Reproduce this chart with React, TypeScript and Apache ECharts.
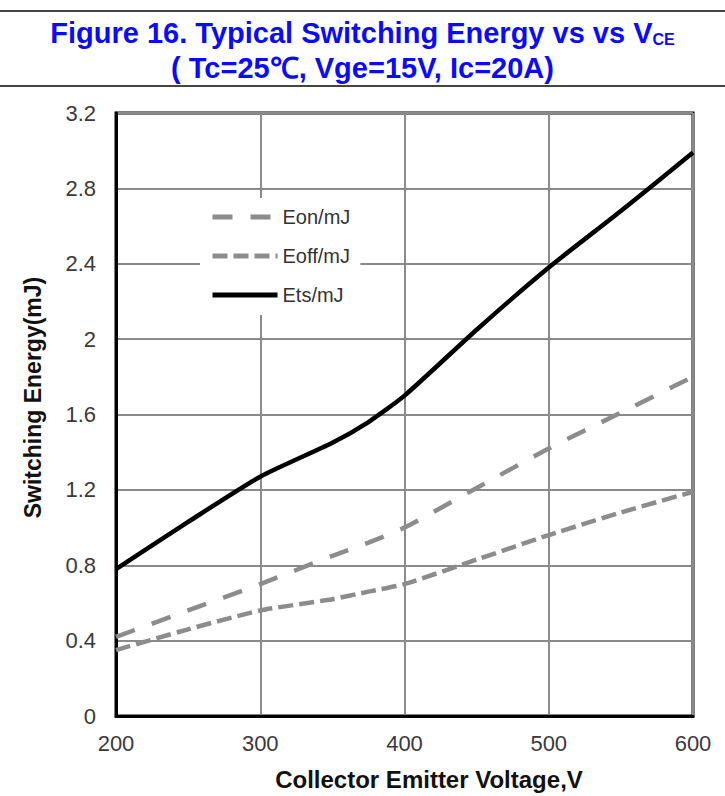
import React, { useEffect, useRef } from "react";
import * as echarts from "echarts";

const voltage = [200, 250, 300, 350, 375, 400, 450, 500, 550, 600];
const eon = [0.42, 0.56, 0.7, 0.85, 0.92, 1.0, 1.21, 1.42, 1.61, 1.8];
const eoff = [0.35, 0.46, 0.56, 0.62, 0.66, 0.7, 0.83, 0.96, 1.08, 1.19];
const ets = [0.78, 1.03, 1.27, 1.45, 1.56, 1.7, 2.05, 2.38, 2.68, 2.99];
const seriesNames = ["Eon/mJ", "Eoff/mJ", "Ets/mJ"];

const FONT = "'Liberation Sans', Arial, Helvetica, sans-serif";
const BLUE = "#0a0aff";

const pairs = (ys: number[]) => voltage.map((v, i) => [v, ys[i]]);

export default function App() {
  const ref = useRef<HTMLDivElement>(null);
  useEffect(() => {
    if (!ref.current) return;
    const chart = echarts.init(ref.current, null, { renderer: "svg" });
    chart.setOption({
      animation: false,
      backgroundColor: "#fff",
      title: {
        text: "Figure 16. Typical Switching Energy vs vs V{sub|CE}",
        subtext: "( Tc=25℃, Vge=15V, Ic=20A)",
        left: "center",
        top: 18,
        padding: 0,
        itemGap: 6,
        textStyle: {
          fontFamily: FONT,
          fontSize: 29,
          fontWeight: "bold",
          color: BLUE,
          rich: {
            sub: {
              fontFamily: FONT,
              fontSize: 16,
              fontWeight: "bold",
              color: BLUE,
              verticalAlign: "bottom",
            },
          },
        },
        subtextStyle: {
          fontFamily: FONT,
          fontSize: 29,
          fontWeight: "bold",
          color: BLUE,
        },
      },
      graphic: [
        { type: "line", shape: { x1: 0, y1: 11, x2: 725, y2: 11 }, style: { stroke: "#444", lineWidth: 2 } },
        { type: "line", shape: { x1: 0, y1: 86, x2: 725, y2: 86 }, style: { stroke: "#444", lineWidth: 2 } },
      ],
      grid: {
        left: 116,
        top: 113,
        width: 577,
        height: 603,
        show: true,
        borderColor: "#000",
        borderWidth: 3,
        backgroundColor: "transparent",
      },
      legend: {
        orient: "vertical",
        left: 200,
        top: 198,
        padding: [9, 10, 10, 10],
        itemWidth: 65,
        itemHeight: 10,
        itemGap: 19,
        backgroundColor: "#fff",
        textStyle: { fontFamily: FONT, fontSize: 20, color: "#333" },
        lineStyle: { width: 5 },
        itemStyle: { opacity: 0, borderWidth: 0 },
        data: seriesNames,
      },
      xAxis: {
        type: "value",
        min: 200,
        max: 600,
        interval: 100,
        name: "Collector Emitter Voltage,V",
        nameLocation: "middle",
        nameGap: 51,
        nameTextStyle: {
          fontFamily: FONT,
          fontSize: 24,
          fontWeight: "bold",
          color: "#111",
          padding: [0, 0, 0, 49],
        },
        axisLine: { show: true, onZero: false, lineStyle: { color: "#000", width: 3 } },
        axisTick: { show: false },
        axisLabel: { margin: 16, fontFamily: FONT, fontSize: 22, color: "#3a3a3a" },
        splitLine: { show: true, lineStyle: { color: "#8a8a8a", width: 2 } },
      },
      yAxis: {
        type: "value",
        min: 0,
        max: 3.2,
        interval: 0.4,
        name: "Switching Energy(mJ)",
        nameLocation: "middle",
        nameGap: 72,
        nameTextStyle: {
          fontFamily: FONT,
          fontSize: 23,
          fontWeight: "bold",
          color: "#111",
          padding: [0, 0, 0, 34],
        },
        axisLine: { show: true, lineStyle: { color: "#000", width: 3 } },
        axisTick: { show: false },
        axisLabel: { margin: 20, fontFamily: FONT, fontSize: 22, color: "#3a3a3a" },
        splitLine: { show: true, lineStyle: { color: "#8a8a8a", width: 2 } },
      },
      series: [
        {
          name: seriesNames[0],
          type: "line",
          data: pairs(eon),
          symbol: "none",
          smooth: 0.2,
          lineStyle: { color: "#8c8c8c", width: 4.5, type: [20, 18] },
          itemStyle: { color: "#8c8c8c" },
        },
        {
          name: seriesNames[1],
          type: "line",
          data: pairs(eoff),
          symbol: "none",
          smooth: 0.2,
          lineStyle: { color: "#8c8c8c", width: 4.5, type: [15, 6] },
          itemStyle: { color: "#8c8c8c" },
        },
        {
          name: seriesNames[2],
          type: "line",
          data: pairs(ets),
          symbol: "none",
          smooth: 0.2,
          lineStyle: { color: "#000", width: 4.5 },
          itemStyle: { color: "#000" },
        },
      ],
    });
    return () => chart.dispose();
  }, []);
  return (
    <div
      ref={ref}
      style={{ position: "fixed", left: 0, top: 0, width: 725, height: 796 }}
    />
  );
}
